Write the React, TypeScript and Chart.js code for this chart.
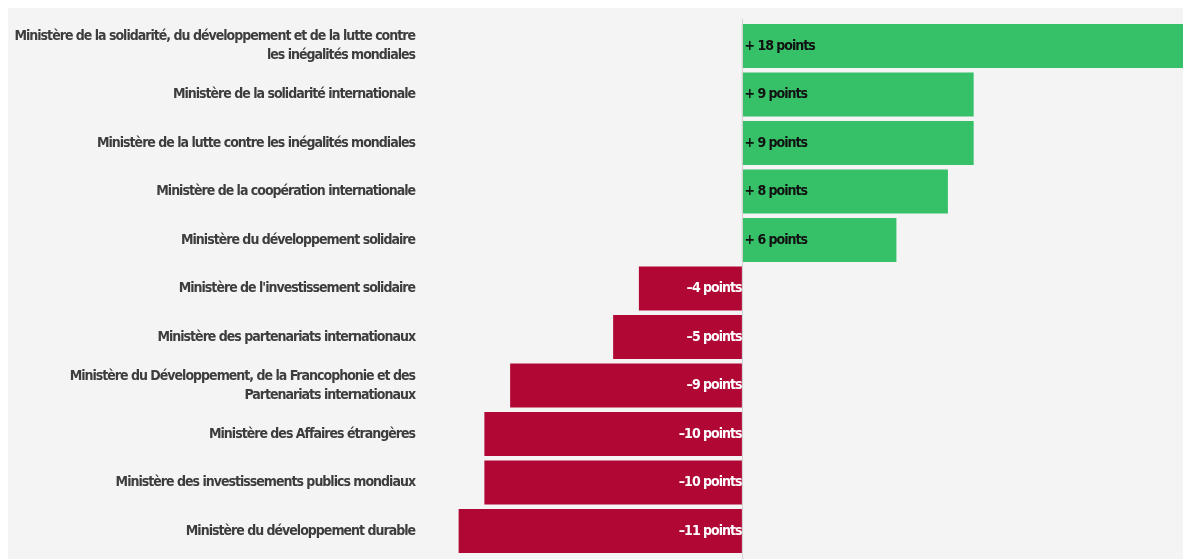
import React, { useEffect, useRef } from "react";
import { Chart, registerables } from "chart.js";

Chart.register(...registerables);

const categories: (string | string[])[] = [
  ["Ministère de la solidarité, du développement et de la lutte contre", "les inégalités mondiales"],
  "Ministère de la solidarité internationale",
  "Ministère de la lutte contre les inégalités mondiales",
  "Ministère de la coopération internationale",
  "Ministère du développement solidaire",
  "Ministère de l'investissement solidaire",
  "Ministère des partenariats internationaux",
  ["Ministère du Développement, de la Francophonie et des", "Partenariats internationaux"],
  "Ministère des Affaires étrangères",
  "Ministère des investissements publics mondiaux",
  "Ministère du développement durable",
];

const values: number[] = [18, 9, 9, 8, 6, -4, -5, -9, -10, -10, -11];

const valueLabels: string[] = [
  "+ 18 points",
  "+ 9 points",
  "+ 9 points",
  "+ 8 points",
  "+ 6 points",
  "–4 points",
  "–5 points",
  "–9 points",
  "–10 points",
  "–10 points",
  "–11 points",
];

const GREEN = "#36c068";
const RED = "#b00735";
const FONT = "'DejaVu Sans Condensed', 'DejaVu Sans', sans-serif";

export default function App() {
  const ref = useRef<HTMLCanvasElement | null>(null);

  useEffect(() => {
    document.documentElement.style.overflow = "hidden";
    const canvas = ref.current;
    if (!canvas) return;

    const bgPlugin = {
      id: "bg",
      beforeDraw(chart: any) {
        const c = chart.ctx;
        c.save();
        c.fillStyle = "#f4f4f4";
        c.fillRect(0, 0, chart.width, chart.height);
        c.restore();
        (c as any).letterSpacing = "-1px";
      },
    };

    const overlayPlugin = {
      id: "overlay",
      afterDatasetsDraw(chart: any) {
        const c = chart.ctx;
        const xs = chart.scales.x;
        const x0 = Math.round(xs.getPixelForValue(0)) + 0.5;
        c.save();
        c.strokeStyle = "#d2d2d2";
        c.lineWidth = 1;
        c.beginPath();
        c.moveTo(x0, 11);
        c.lineTo(x0, chart.height);
        c.stroke();

        const meta = chart.getDatasetMeta(0);
        c.font = `bold 14px ${FONT}`;
        (c as any).letterSpacing = "-1px";
        c.textBaseline = "middle";
        meta.data.forEach((bar: any, i: number) => {
          const v = values[i];
          if (v >= 0) {
            c.fillStyle = "#111111";
            c.textAlign = "left";
            c.fillText(valueLabels[i], x0 + 2, bar.y);
          } else {
            c.fillStyle = "#ffffff";
            c.textAlign = "right";
            c.fillText(valueLabels[i], x0 - 1, bar.y);
          }
        });
        c.restore();
      },
    };

    const chart = new Chart(canvas, {
      type: "bar",
      data: {
        labels: categories,
        datasets: [
          {
            data: values,
            backgroundColor: values.map((v) => (v >= 0 ? GREEN : RED)),
            borderWidth: 0,
            barPercentage: 0.907,
            categoryPercentage: 1,
          },
        ],
      },
      options: {
        indexAxis: "y",
        responsive: true,
        maintainAspectRatio: false,
        animation: false,
        layout: { padding: { top: 13.75, bottom: 3.75, left: 0, right: 0 } },
        plugins: {
          legend: { display: false },
          tooltip: { enabled: false },
        },
        scales: {
          x: {
            display: false,
            min: -12.5,
            max: 17.44,
            grid: { display: false },
          },
          y: {
            grid: { display: false, drawTicks: false },
            border: { display: false },
            ticks: {
              autoSkip: false,
              padding: 5,
              color: "#3d3d3d",
              font: { family: FONT, size: 14, weight: "bold", lineHeight: 1.35 },
            },
            afterFit(scale: any) {
              scale.width = 412;
              scale.paddingTop = 0;
              scale.paddingBottom = 0;
            },
          },
        },
      },
      plugins: [bgPlugin, overlayPlugin],
    } as any);

    return () => chart.destroy();
  }, []);

  return (
    <div style={{ position: "relative", width: "1183px", height: "551px" }}>
      <canvas ref={ref} />
    </div>
  );
}
